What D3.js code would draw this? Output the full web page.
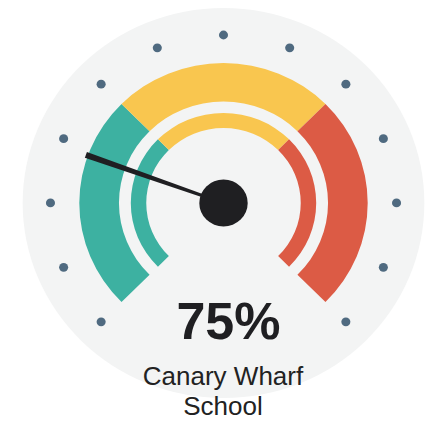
<!DOCTYPE html>
<html>
<head>
<meta charset="utf-8">
<script src="https://cdn.jsdelivr.net/npm/d3@7"></script>
<style>
  html, body { margin: 0; padding: 0; background: #ffffff; }
  svg { display: block; }
</style>
</head>
<body>
<div id="gauge"></div>
<script>
'use strict';

// gauge data
const bandNames = ["green", "yellow", "red"];
const bandStarts = [100, 66.67, 33.33];
const bandEnds = [66.67, 33.33, 0];
const tickValues = [0, 8.33, 16.67, 25, 33.33, 41.67, 50, 58.33, 66.67, 75, 83.33, 91.67, 100];
const needleValue = [76];
const valueLabel = ["75%"];
const nameLines = ["Canary Wharf", "School"];

const colors = {
  "green": "#3db1a1",
  "yellow": "#f9c64f",
  "red": "#dc5b45"
};

const width = 436, height = 421;
const cx = 223.5, cy = 203;

const svg = d3.select("#gauge").append("svg")
  .attr("width", width)
  .attr("height", height);

// 0 sits bottom right, 100 bottom left
const angle = d3.scaleLinear().domain([0, 100]).range([135, -135]);
const rad = d => angle(d) * Math.PI / 180;

const g = svg.append("g")
  .attr("transform", "translate(" + cx + "," + cy + ") scale(1.03,1)");

g.append("circle")
  .attr("r", 195)
  .attr("fill", "#f3f4f4");

// outer band
const outerArc = d3.arc().innerRadius(101.5).outerRadius(140);
const innerArc = d3.arc().innerRadius(75).outerRadius(90);

const bands = bandNames.map((name, i) => ({ name: name, from: bandStarts[i], to: bandEnds[i] }));

g.selectAll(".outer")
  .data(bands)
  .join("path")
  .attr("class", "outer")
  .attr("fill", d => colors[d.name])
  .attr("d", d => outerArc({ startAngle: rad(d.from), endAngle: rad(d.to) }));

g.selectAll(".inner")
  .data(bands)
  .join("path")
  .attr("class", "inner")
  .attr("fill", d => colors[d.name])
  .attr("d", d => innerArc({ startAngle: rad(d.from), endAngle: rad(d.to) }));

// dots
g.selectAll(".dot")
  .data(tickValues)
  .join("circle")
  .attr("class", "dot")
  .attr("cx", d => 168 * Math.sin(rad(d)))
  .attr("cy", d => -168 * Math.cos(rad(d)))
  .attr("r", 4.4)
  .attr("fill", "#4f6a80");

// needle, drawn pointing up then rotated
const needleShape = [[-1.2, 0], [-3, -142], [3, -142], [1.2, 0]];
g.append("path")
  .attr("d", d3.line()(needleShape) + "Z")
  .attr("fill", "#1f1f22")
  .attr("transform", "rotate(" + angle(needleValue[0]) + ")");

g.append("circle")
  .attr("r", 23.5)
  .attr("fill", "#1f1f22");

// labels
svg.append("text")
  .attr("x", 228.5)
  .attr("y", 339)
  .attr("text-anchor", "middle")
  .attr("font-family", "Liberation Sans, Arial, sans-serif")
  .attr("font-weight", "bold")
  .attr("font-size", 52)
  .attr("fill", "#1f1f22")
  .text(valueLabel[0]);

svg.selectAll(".name")
  .data(nameLines)
  .join("text")
  .attr("class", "name")
  .attr("x", 223)
  .attr("y", (d, i) => 385 + i * 30)
  .attr("text-anchor", "middle")
  .attr("font-family", "Liberation Sans, Arial, sans-serif")
  .attr("font-size", 26)
  .attr("fill", "#222222")
  .text(d => d);
</script>
</body>
</html>
